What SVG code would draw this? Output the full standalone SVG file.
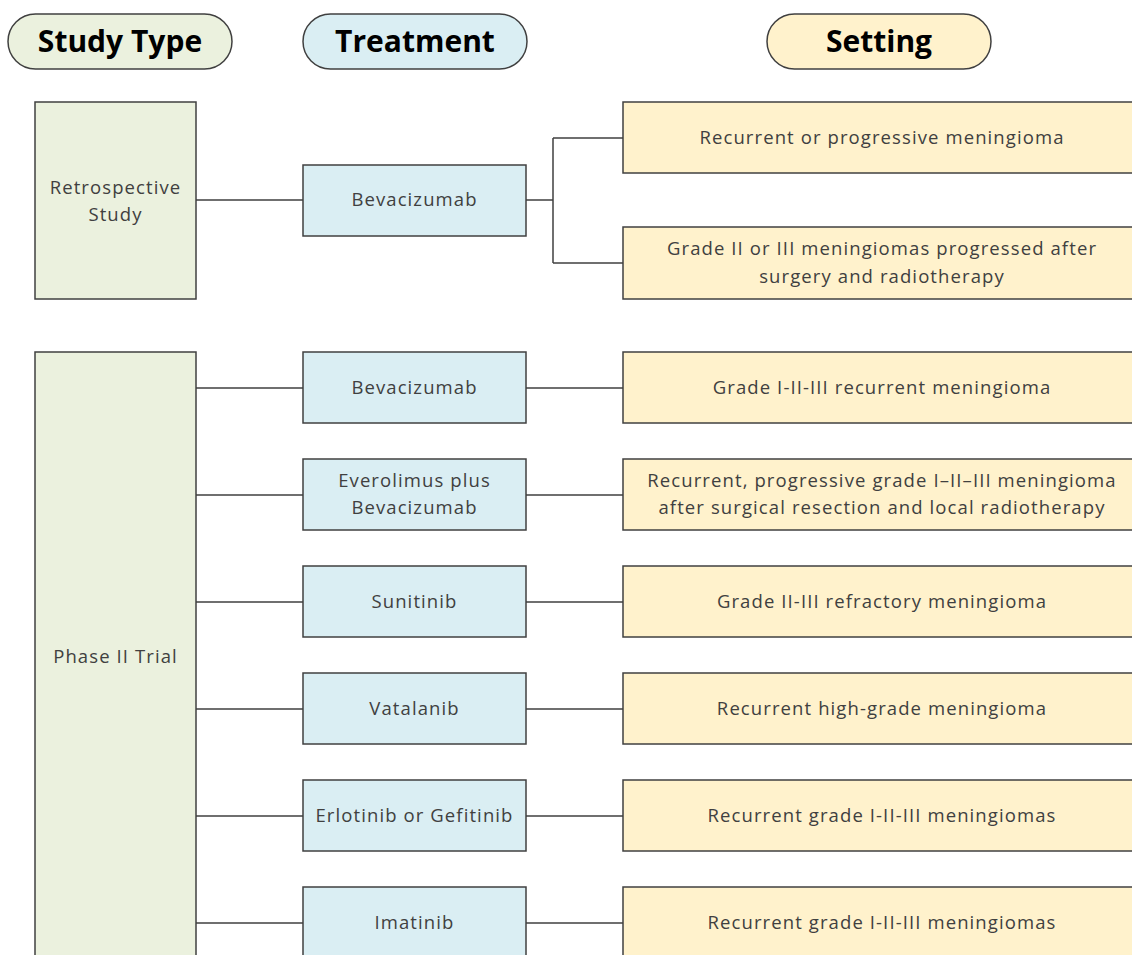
<svg xmlns="http://www.w3.org/2000/svg" width="1132" height="955" viewBox="0 0 1132 955">
<style>
.pill{stroke:#404040;stroke-width:1.5}
.box{stroke:#404040;stroke-width:1.5}
.st{fill:#EBF1DE}
.tr{fill:#DAEEF3}
.se{fill:#FFF2CC}
.h{font-family:"Open Sans","Liberation Sans",sans-serif;font-weight:bold;font-size:30px;fill:#000;text-anchor:middle}
.t{font-family:"Open Sans","Liberation Sans",sans-serif;font-size:18.5px;letter-spacing:1.1px;fill:#404040;text-anchor:middle}
.c{stroke:#404040;stroke-width:1.5;fill:none}
</style>
<rect width="1132" height="955" fill="#fff"/>
<g id="hdr-study"><rect class="pill st" x="8" y="14" width="224" height="55" rx="27.5"/><text class="h" x="120" y="52">Study Type</text></g>
<g id="hdr-treatment"><rect class="pill tr" x="303" y="14" width="224" height="55" rx="27.5"/><text class="h" x="415" y="52">Treatment</text></g>
<g id="hdr-setting"><rect class="pill se" x="767" y="14" width="224" height="55" rx="27.5"/><text class="h" x="879" y="52">Setting</text></g>

<g id="connectors">
<path class="c" d="M196 200H303M526 200H553M553 138V263M553 138H623M553 263H623"/>
<path class="c" d="M196 388H303M526 388H623"/>
<path class="c" d="M196 495H303M526 495H623"/>
<path class="c" d="M196 602H303M526 602H623"/>
<path class="c" d="M196 709H303M526 709H623"/>
<path class="c" d="M196 816H303M526 816H623"/>
<path class="c" d="M196 923H303M526 923H623"/>
</g>

<g id="study-retro"><rect class="box st" x="35" y="102" width="161" height="197"/><text class="t" x="115.5" y="194">Retrospective</text><text class="t" x="115.5" y="221">Study</text></g>
<g id="study-phase2"><rect class="box st" x="35" y="352" width="161" height="620"/><text class="t" x="115.5" y="663">Phase II Trial</text></g>

<g id="tr-bev1"><rect class="box tr" x="303" y="165" width="223" height="71"/><text class="t" x="414.5" y="206">Bevacizumab</text></g>
<g id="tr-bev2"><rect class="box tr" x="303" y="352" width="223" height="71"/><text class="t" x="414.5" y="394">Bevacizumab</text></g>
<g id="tr-evero"><rect class="box tr" x="303" y="459" width="223" height="71"/><text class="t" x="414.5" y="487">Everolimus plus</text><text class="t" x="414.5" y="514">Bevacizumab</text></g>
<g id="tr-suni"><rect class="box tr" x="303" y="566" width="223" height="71"/><text class="t" x="414.5" y="608">Sunitinib</text></g>
<g id="tr-vata"><rect class="box tr" x="303" y="673" width="223" height="71"/><text class="t" x="414.5" y="715">Vatalanib</text></g>
<g id="tr-erlo"><rect class="box tr" x="303" y="780" width="223" height="71"/><text class="t" x="414.5" y="822">Erlotinib or Gefitinib</text></g>
<g id="tr-ima"><rect class="box tr" x="303" y="887" width="223" height="71"/><text class="t" x="414.5" y="929">Imatinib</text></g>

<g id="se-1"><rect class="box se" x="623" y="102" width="520" height="71"/><text class="t" x="882" y="144">Recurrent or progressive meningioma</text></g>
<g id="se-2"><rect class="box se" x="623" y="227" width="520" height="72"/><text class="t" x="882" y="255">Grade II or III meningiomas progressed after</text><text class="t" x="882" y="283">surgery and radiotherapy</text></g>
<g id="se-3"><rect class="box se" x="623" y="352" width="520" height="71"/><text class="t" x="882" y="394">Grade I-II-III recurrent meningioma</text></g>
<g id="se-4"><rect class="box se" x="623" y="459" width="520" height="71"/><text class="t" x="882" y="487">Recurrent, progressive grade I–II–III meningioma</text><text class="t" x="882" y="514">after surgical resection and local radiotherapy</text></g>
<g id="se-5"><rect class="box se" x="623" y="566" width="520" height="71"/><text class="t" x="882" y="608">Grade II-III refractory meningioma</text></g>
<g id="se-6"><rect class="box se" x="623" y="673" width="520" height="71"/><text class="t" x="882" y="715">Recurrent high-grade meningioma</text></g>
<g id="se-7"><rect class="box se" x="623" y="780" width="520" height="71"/><text class="t" x="882" y="822">Recurrent grade I-II-III meningiomas</text></g>
<g id="se-8"><rect class="box se" x="623" y="887" width="520" height="71"/><text class="t" x="882" y="929">Recurrent grade I-II-III meningiomas</text></g>
</svg>
